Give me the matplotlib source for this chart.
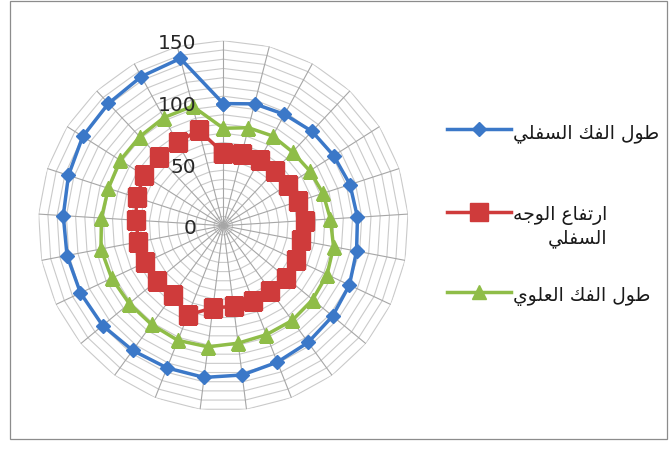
import numpy as np
import matplotlib
matplotlib.use("Agg")
import matplotlib.pyplot as plt
from matplotlib.patches import Rectangle
from matplotlib.transforms import offset_copy

# ---------------- data ----------------
series_names = ["طول الفك السفلي", "ارتفاع الوجه\nالسفلي", "طول الفك العلوي"]
lower_jaw = [99, 102, 103, 105, 106, 108, 109, 110, 113, 115, 117, 119, 122,
             124, 124, 125, 127, 128, 129, 130, 132, 135, 136, 138, 140]
lower_face = [59, 60, 61, 61, 62, 64, 66, 64, 65, 66, 65, 66, 66,
              67, 78, 69, 70, 70, 70, 71, 74, 76, 76, 77, 80]
upper_jaw = [79, 82, 83, 82, 83, 85, 87, 91, 93, 94, 95, 95, 96,
             99, 100, 99, 99, 100, 101, 99, 98, 99, 99, 100, 100]
r_ticks = [0, 50, 100, 150]
r_max = 150
ring_step = 7.5

colors = ["#3b78c8", "#cf3b3b", "#8fbd48"]
markers = ["D", "s", "^"]
msizes = [7.5, 13, 9.5]

# ---------------- Arabic shaping (presentation forms) ----------------
FORMS = {
    "ا": (0xFE8D, 0xFE8E), "ر": (0xFEAD, 0xFEAE), "و": (0xFEED, 0xFEEE),
    "د": (0xFEA9, 0xFEAA), "ى": (0xFEEF, 0xFEF0),
    "ط": (0xFEC1, 0xFEC2, 0xFEC3, 0xFEC4), "ل": (0xFEDD, 0xFEDE, 0xFEDF, 0xFEE0),
    "ف": (0xFED1, 0xFED2, 0xFED3, 0xFED4), "ك": (0xFED9, 0xFEDA, 0xFEDB, 0xFEDC),
    "س": (0xFEB1, 0xFEB2, 0xFEB3, 0xFEB4), "ي": (0xFEF1, 0xFEF2, 0xFEF3, 0xFEF4),
    "ت": (0xFE95, 0xFE96, 0xFE97, 0xFE98), "ع": (0xFEC9, 0xFECA, 0xFECB, 0xFECC),
    "ج": (0xFE9D, 0xFE9E, 0xFE9F, 0xFEA0), "ه": (0xFEE9, 0xFEEA, 0xFEEB, 0xFEEC),
}


def shape_line(s):
    out = []
    for i, c in enumerate(s):
        if c not in FORMS:
            out.append(c)
            continue
        prev = s[i - 1] if i > 0 else None
        nxt = s[i + 1] if i + 1 < len(s) else None
        jp = prev in FORMS and len(FORMS[prev]) == 4
        jn = len(FORMS[c]) == 4 and nxt in FORMS
        if jp and jn:
            idx = 3
        elif jp:
            idx = 1
        elif jn:
            idx = 2
        else:
            idx = 0
        out.append(chr(FORMS[c][idx]))
    return "".join(reversed(out))


def shape(s):
    return "\n".join(shape_line(l) for l in s.split("\n"))


# ---------------- figure ----------------
W, H = 670, 452
fig = plt.figure(figsize=(W / 100, H / 100), dpi=100)
fig.patch.set_facecolor("white")

cx, cy, R = 223.3, 226.7, 185.0
ax = fig.add_axes([(cx - R) / W, (H - cy - R) / H, 2 * R / W, 2 * R / H],
                  projection="polar")
ax.set_theta_zero_location("N")
ax.set_theta_direction(-1)
ax.set_ylim(0, r_max)
ax.grid(False)
ax.spines["polar"].set_visible(False)
ax.set_xticks([])
ax.set_yticks([])
ax.patch.set_alpha(0)

n = len(lower_jaw)
theta = np.arange(n) * 2 * np.pi / n
theta_c = np.append(theta, theta[0])

# polygonal grid rings
for r in np.arange(ring_step, r_max + 1e-6, ring_step):
    ax.plot(theta_c, np.full(n + 1, r), color="#cacaca", lw=0.8, zorder=1)
# spokes
for t in theta:
    ax.plot([t, t], [0, r_max], color="#a6a6a6", lw=0.8, zorder=1)

lines = []
for vals, col, mk, ms in zip([lower_jaw, lower_face, upper_jaw], colors, markers, msizes):
    v = np.append(vals, vals[0])
    ln, = ax.plot(theta_c, v, color=col, lw=2.5, marker=mk, markersize=ms,
                  markerfacecolor=col, markeredgecolor=col, zorder=3)
    lines.append(ln)

# radial value labels
lab_tr = offset_copy(ax.transData, fig=fig, x=-27, y=-2, units="dots")
for v in r_ticks:
    ax.text(0, v, str(v), transform=lab_tr, ha="right", va="center",
            fontsize=14.5, color="#262626", zorder=5)

# legend entries
anchor_y = [133, 227, 296]
for ln, name, ay in zip(lines, series_names, anchor_y):
    leg = fig.legend([ln], [shape(name)], loc="center left",
                     bbox_to_anchor=(447 / W, 1 - ay / H),
                     bbox_transform=fig.transFigure, frameon=False,
                     borderpad=0, borderaxespad=0, handlelength=3.4,
                     handletextpad=0.1,
                     prop={"family": "DejaVu Sans", "size": 13.5})
    for t in leg.get_texts():
        t.set_multialignment("right")
        t.set_linespacing(1.2)
        t.set_color("#1a1a1a")
    try:
        for col in leg._legend_handle_box.get_children():
            for row in col.get_children():
                row.align = "top"
    except Exception:
        pass

# chart frame
fig.add_artist(Rectangle((10 / W, 12 / H), 657 / W, 438 / H,
                         transform=fig.transFigure, fill=False,
                         edgecolor="#8c8c8c", lw=0.9))

fig.savefig("out.png", dpi=100, facecolor="white")
